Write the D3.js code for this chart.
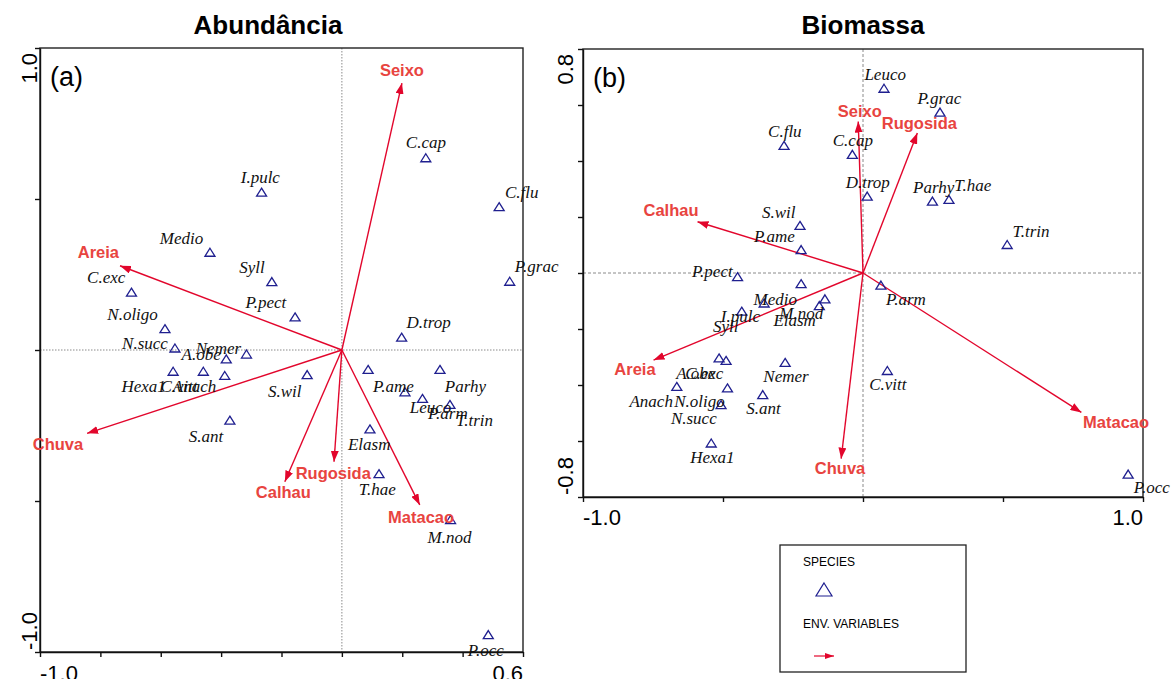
<!DOCTYPE html>
<html>
<head>
<meta charset="utf-8">
<script src="https://cdn.jsdelivr.net/npm/d3@7"></script>
<style>
body { margin: 0; background: #fff; }
svg { display: block; }
.spp { font-family: "Liberation Serif", "Times New Roman", serif; font-style: italic; font-size: 17px; fill: #111; }
.env { font-family: "Liberation Sans", Arial, sans-serif; font-weight: bold; font-size: 16.5px; fill: #e8443f; }
.tickl { font-family: "Liberation Sans", Arial, sans-serif; font-size: 22px; fill: #000; }
.title { font-family: "Liberation Sans", Arial, sans-serif; font-weight: bold; font-size: 26px; fill: #000; }
.panel { font-family: "Liberation Sans", Arial, sans-serif; font-size: 27px; fill: #000; }
.leg { font-family: "Liberation Sans", Arial, sans-serif; font-size: 12px; fill: #000; }
</style>
</head>
<body>
<script>
var w = 1173, h = 679;

// species scores: name, x, y, label x, label baseline y (axis units)
var speciesA = [
	["I.pulc", -0.266, 0.521, -0.335, 0.553],
	["Medio", -0.437, 0.322, -0.603, 0.351],
	["Syll", -0.232, 0.225, -0.340, 0.254],
	["C.exc", -0.697, 0.190, -0.844, 0.221],
	["P.pect", -0.155, 0.108, -0.319, 0.138],
	["N.oligo", -0.586, 0.069, -0.777, 0.099],
	["N.succ", -0.553, 0.005, -0.728, 0.002],
	["A.obe", -0.383, -0.031, -0.531, -0.033],
	["Nemer", -0.316, -0.015, -0.484, -0.013],
	["Hexa1", -0.559, -0.072, -0.730, -0.139],
	["C.vitt", -0.459, -0.072, -0.601, -0.139],
	["Anach", -0.388, -0.086, -0.560, -0.139],
	["S.wil", -0.115, -0.083, -0.245, -0.155],
	["S.ant", -0.371, -0.234, -0.507, -0.304],
	["C.cap", 0.278, 0.635, 0.212, 0.669],
	["C.flu", 0.521, 0.473, 0.540, 0.504],
	["P.grac", 0.556, 0.226, 0.573, 0.258],
	["D.trop", 0.198, 0.041, 0.214, 0.073],
	["P.ame", 0.087, -0.066, 0.103, -0.138],
	["Parhy", 0.325, -0.066, 0.341, -0.138],
	["Leuco", 0.209, -0.140, 0.225, -0.209],
	["P.arm", 0.267, -0.162, 0.285, -0.228],
	["T.trin", 0.358, -0.182, 0.378, -0.252],
	["Elasm", 0.093, -0.263, 0.020, -0.331],
	["T.hae", 0.123, -0.411, 0.056, -0.480],
	["M.nod", 0.360, -0.563, 0.284, -0.638],
	["P.occ", 0.485, -0.944, 0.417, -1.013]
];

var envA = [
	["Seixo", 0.199, 0.884, 0.126, 0.907],
	["Areia", -0.735, 0.279, -0.875, 0.305],
	["Chuva", -0.844, -0.276, -1.024, -0.331],
	["Calhau", -0.189, -0.436, -0.285, -0.491],
	["Rugosida", -0.026, -0.370, -0.153, -0.428],
	["Matacao", 0.258, -0.513, 0.153, -0.574]
];

var speciesB = [
	["Leuco", 0.075, 0.658, 0.005, 0.688],
	["P.grac", 0.275, 0.573, 0.195, 0.604],
	["C.flu", -0.282, 0.454, -0.339, 0.486],
	["C.cap", -0.038, 0.422, -0.108, 0.454],
	["D.trop", 0.015, 0.273, -0.062, 0.304],
	["Parhy", 0.248, 0.255, 0.179, 0.285],
	["T.hae", 0.307, 0.261, 0.326, 0.294],
	["T.trin", 0.515, 0.100, 0.534, 0.130],
	["S.wil", -0.225, 0.168, -0.361, 0.197],
	["P.ame", -0.221, 0.082, -0.389, 0.112],
	["P.pect", -0.448, -0.015, -0.611, -0.015],
	["Medio", -0.353, -0.109, -0.391, -0.113],
	["I.pulc", -0.433, -0.138, -0.508, -0.176],
	["Syll", -0.221, -0.040, -0.536, -0.210],
	["M.nod", -0.136, -0.094, -0.299, -0.166],
	["Elasm", -0.156, -0.118, -0.320, -0.190],
	["P.arm", 0.064, -0.045, 0.082, -0.114],
	["A.obe", -0.514, -0.305, -0.667, -0.380],
	["C.exc", -0.489, -0.314, -0.635, -0.380],
	["Nemer", -0.278, -0.321, -0.356, -0.389],
	["Anach", -0.665, -0.407, -0.834, -0.480],
	["N.oligo", -0.484, -0.412, -0.674, -0.480],
	["N.succ", -0.507, -0.472, -0.686, -0.540],
	["S.ant", -0.358, -0.436, -0.417, -0.504],
	["Hexa1", -0.542, -0.609, -0.617, -0.678],
	["C.vitt", 0.087, -0.350, 0.022, -0.418],
	["P.occ", 0.947, -0.720, 0.967, -0.786]
];

var envB = [
	["Seixo", -0.017, 0.541, -0.090, 0.558],
	["Rugosida", 0.194, 0.500, 0.067, 0.514],
	["Calhau", -0.591, 0.183, -0.784, 0.204],
	["Areia", -0.748, -0.311, -0.888, -0.365],
	["Chuva", -0.078, -0.663, -0.172, -0.719],
	["Matacao", 0.780, -0.498, 0.786, -0.555]
];

var xTicksA = [-1, -0.8, -0.6, -0.4, -0.2, 0, 0.2, 0.4, 0.6];
var yTicksA = [-1, -0.5, 0, 0.5, 1];
var xTicksB = [-1, -0.5, 0, 0.5, 1];
var yTicksB = [-0.8, -0.6, -0.4, -0.2, 0, 0.2, 0.4, 0.6, 0.8];

var arrowCol = "#e2062c", triCol = "#1f1f8f";

var svg = d3.select("body").append("svg")
	.attr("width", w)
	.attr("height", h);

var defs = svg.append("defs");
defs.append("marker")
	.attr("id", "head")
	.attr("markerUnits", "userSpaceOnUse")
	.attr("viewBox", "0 0 11 8")
	.attr("refX", 11).attr("refY", 4)
	.attr("markerWidth", 11).attr("markerHeight", 8)
	.attr("orient", "auto")
	.append("path")
	.attr("d", "M0,0L11,4L0,8Z")
	.style("fill", arrowCol);
defs.append("marker")
	.attr("id", "headSmall")
	.attr("markerUnits", "userSpaceOnUse")
	.attr("viewBox", "0 0 9 6")
	.attr("refX", 9).attr("refY", 3)
	.attr("markerWidth", 9).attr("markerHeight", 6)
	.attr("orient", "auto")
	.append("path")
	.attr("d", "M0,0L9,3L0,6Z")
	.style("fill", arrowCol);

var tri = "M0,-4.5L5,3.5L-5,3.5Z";

function panel(o) {
	var x = o.x, y = o.y;
	var g = svg.append("g");
	var x0 = x.range()[0], x1 = x.range()[1], y0 = y.range()[0], y1 = y.range()[1];

	// zero lines
	g.append("line")
		.attr("x1", x(0)).attr("x2", x(0)).attr("y1", y1).attr("y2", y0)
		.style("stroke", "#8a8a8a").style("stroke-width", 1).style("stroke-dasharray", o.dash);
	g.append("line")
		.attr("x1", x0).attr("x2", x1).attr("y1", y(0)).attr("y2", y(0))
		.style("stroke", "#8a8a8a").style("stroke-width", 1).style("stroke-dasharray", o.dash);

	g.append("rect")
		.attr("x", x0).attr("y", y1)
		.attr("width", x1 - x0).attr("height", y0 - y1)
		.style("fill", "none").style("stroke", "#222").style("stroke-width", 1.4);

	var ax = g.append("g").attr("transform", "translate(0," + y0 + ")")
		.call(d3.axisBottom(x).tickValues(o.xt).tickSize(5).tickSizeOuter(0).tickFormat(""));
	var ay = g.append("g").attr("transform", "translate(" + x0 + ",0)")
		.call(d3.axisLeft(y).tickValues(o.yt).tickSize(5).tickSizeOuter(0).tickFormat(""));
	ax.selectAll("line,path").style("stroke", "#111").style("stroke-width", 1.4);
	ay.selectAll("line,path").style("stroke", "#111").style("stroke-width", 1.4);

	// end tick labels
	var xd = x.domain(), yd = y.domain();
	g.append("text").attr("class", "tickl")
		.attr("x", x(xd[0])).attr("y", o.xlabY).text(d3.format(".1f")(xd[0]).replace("−", "-"));
	g.append("text").attr("class", "tickl").attr("text-anchor", "end")
		.attr("x", x(xd[1])).attr("y", o.xlabY).text(d3.format(".1f")(xd[1]));
	g.append("text").attr("class", "tickl").attr("text-anchor", "end")
		.attr("transform", "translate(" + o.ylabX + "," + (y(yd[1]) + 5) + ") rotate(-90)")
		.text(d3.format(".1f")(yd[1]));
	g.append("text").attr("class", "tickl")
		.attr("transform", "translate(" + o.ylabX + "," + (y(yd[0]) - 2) + ") rotate(-90)")
		.text(d3.format(".1f")(yd[0]).replace("−", "-"));

	g.append("text").attr("class", "panel")
		.attr("x", x0 + 10).attr("y", y1 + 38).text(o.tag);
	g.append("text").attr("class", "title").attr("text-anchor", "middle")
		.attr("x", o.titleX).attr("y", 34).text(o.title);

	// arrows
	g.append("g").selectAll("line")
		.data(o.env)
		.enter()
		.append("line")
		.attr("x1", x(0)).attr("y1", y(0))
		.attr("x2", function(d) { return x(d[1]); })
		.attr("y2", function(d) { return y(d[2]); })
		.style("stroke", arrowCol).style("stroke-width", 1.4)
		.attr("marker-end", "url(#head)");

	// species
	g.append("g").selectAll("path")
		.data(o.spp)
		.enter()
		.append("path")
		.attr("d", tri)
		.attr("transform", function(d) { return "translate(" + x(d[1]) + "," + y(d[2]) + ")"; })
		.style("fill", "none").style("stroke", triCol).style("stroke-width", 1.3);

	g.append("g").selectAll("text")
		.data(o.spp)
		.enter()
		.append("text")
		.attr("class", "spp")
		.attr("x", function(d) { return x(d[3]); })
		.attr("y", function(d) { return y(d[4]); })
		.text(function(d) { return d[0]; });

	g.append("g").selectAll("text")
		.data(o.env)
		.enter()
		.append("text")
		.attr("class", "env")
		.attr("x", function(d) { return x(d[3]); })
		.attr("y", function(d) { return y(d[4]); })
		.text(function(d) { return d[0]; });
}

panel({
	x: d3.scaleLinear().domain([-1, 0.6]).range([40, 523]),
	y: d3.scaleLinear().domain([-1, 1]).range([652, 48]),
	xt: xTicksA, yt: yTicksA,
	spp: speciesA, env: envA,
	tag: "(a)", title: "Abundância", titleX: 268,
	xlabY: 681, ylabX: 37, dash: "1.5,1.5"
});

panel({
	x: d3.scaleLinear().domain([-1, 1]).range([583, 1143]),
	y: d3.scaleLinear().domain([-0.8, 0.8]).range([497, 49]),
	xt: xTicksB, yt: yTicksB,
	spp: speciesB, env: envB,
	tag: "(b)", title: "Biomassa", titleX: 863,
	xlabY: 525, ylabX: 573, dash: "3,2"
});

// legend
var leg = svg.append("g");
leg.append("rect")
	.attr("x", 780).attr("y", 545).attr("width", 186).attr("height", 127)
	.style("fill", "#fff").style("stroke", "#222").style("stroke-width", 1.3);
leg.append("text").attr("class", "leg").attr("x", 803).attr("y", 566).text("SPECIES");
leg.append("path")
	.attr("d", "M0,-7L8,6L-8,6Z")
	.attr("transform", "translate(824,590)")
	.style("fill", "none").style("stroke", triCol).style("stroke-width", 1.2);
leg.append("text").attr("class", "leg").attr("x", 803).attr("y", 628).text("ENV. VARIABLES");
leg.append("line")
	.attr("x1", 814).attr("x2", 834).attr("y1", 656).attr("y2", 656)
	.style("stroke", arrowCol).style("stroke-width", 1.2)
	.attr("marker-end", "url(#headSmall)");
</script>
</body>
</html>
